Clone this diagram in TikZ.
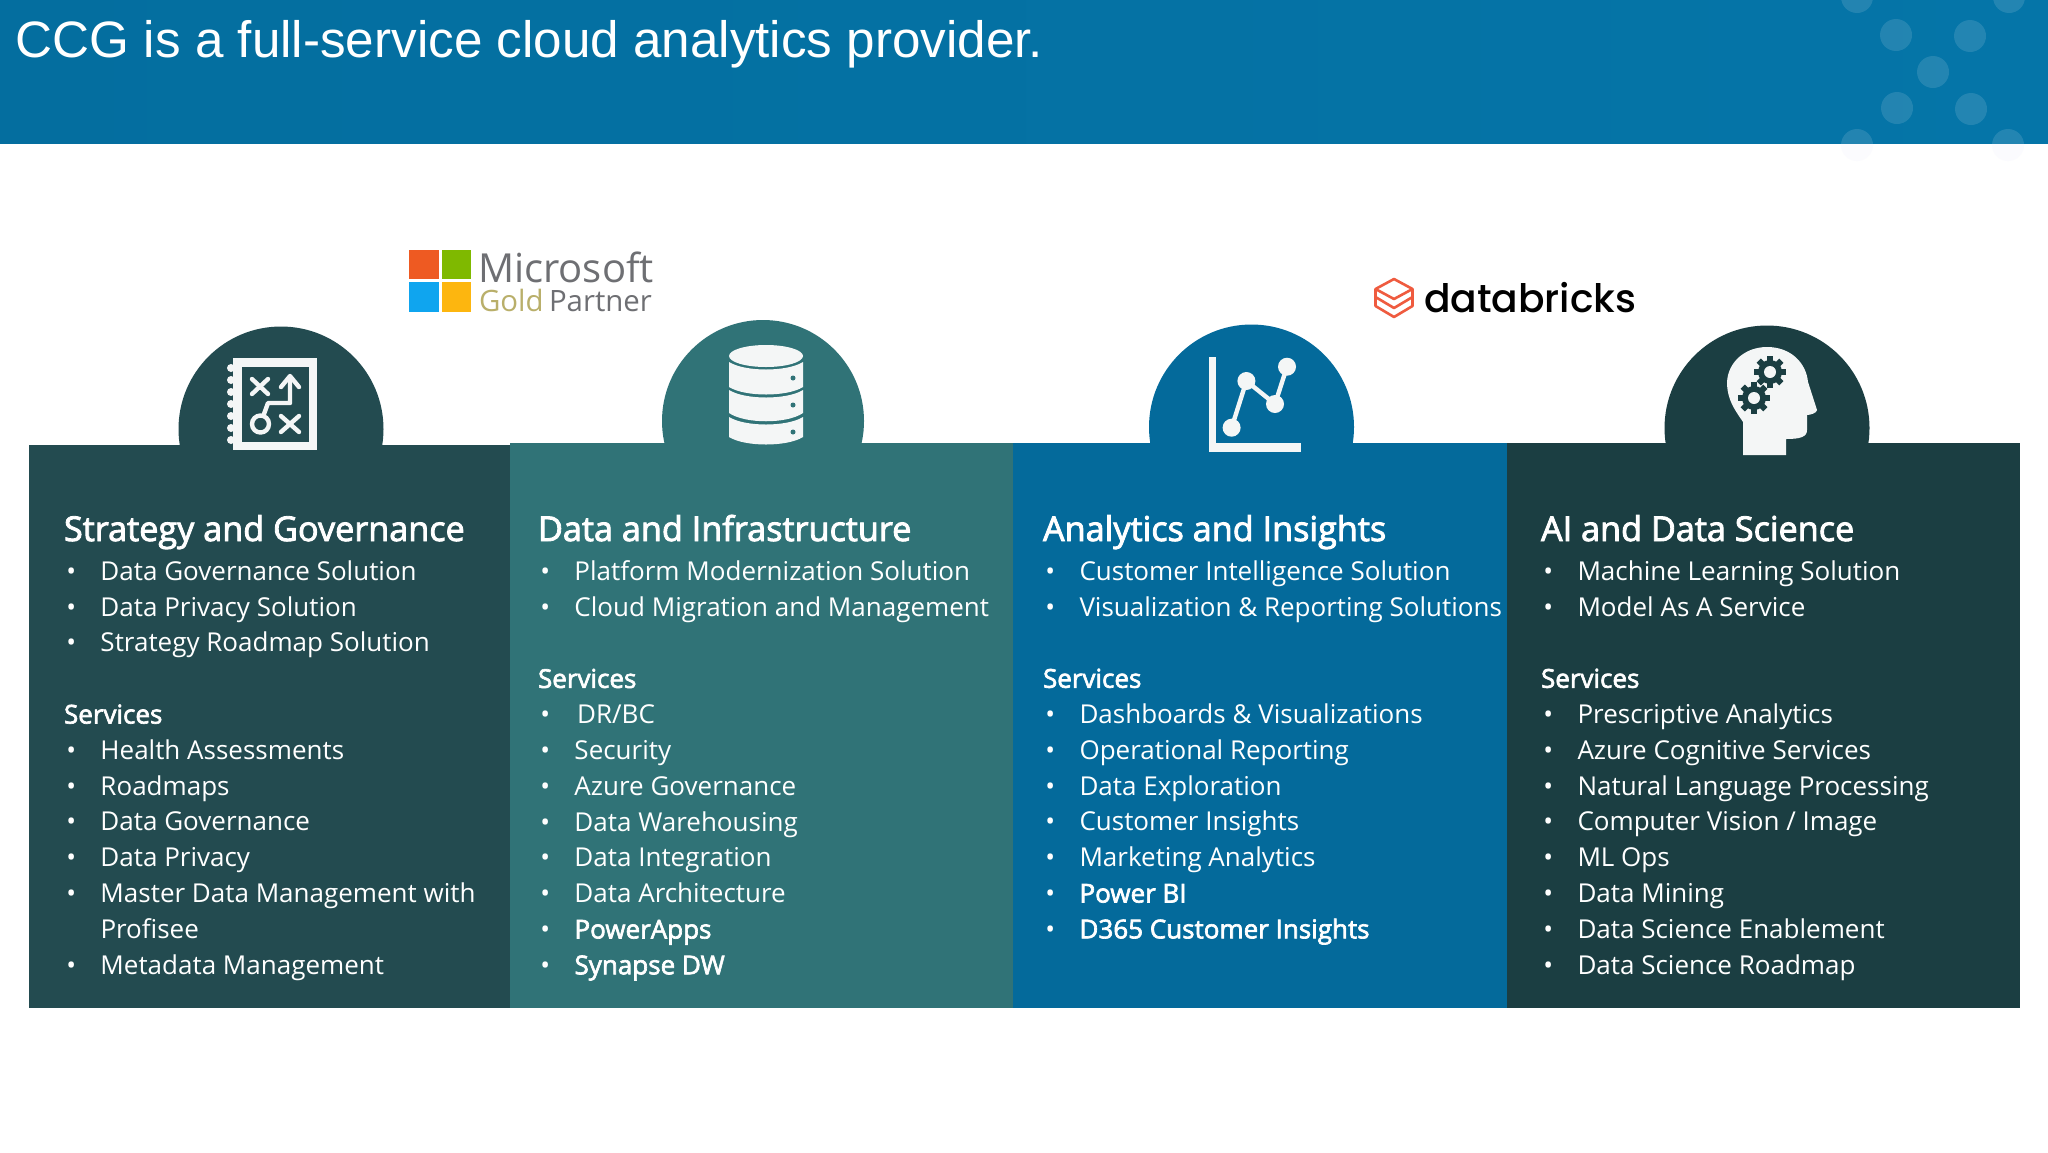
\documentclass[tikz,border=0pt]{standalone}
\usepackage{xcolor}
\usepackage{fontspec}
\usepackage{tikz}
\setmainfont{Open Sans}
\newfontfamily\titlefont{Liberation Sans}
\newfontfamily\brickfont{Poppins Medium}
\newfontfamily\semifont[FakeBold=2.5]{Open Sans}
\definecolor{bannerleft}{HTML}{046E9F}
\definecolor{bannerright}{HTML}{0575A8}
\definecolor{stratcol}{HTML}{234B50}
\definecolor{infracol}{HTML}{307377}
\definecolor{insightcol}{HTML}{046A9B}
\definecolor{aicol}{HTML}{1B3E42}
\definecolor{iconwhite}{HTML}{F4F6F6}
\definecolor{msgray}{HTML}{6E6F73}
\definecolor{msgold}{HTML}{B9AF6A}
\definecolor{msred}{HTML}{EE5A22}
\definecolor{msgreen}{HTML}{7FB900}
\definecolor{msblue}{HTML}{0FA5EF}
\definecolor{msyellow}{HTML}{FDB60F}
\definecolor{brickred}{HTML}{EF5B3F}
\definecolor{dottint}{HTML}{FBFBFE}
\newcommand{\itm}[1]{\makebox[18.25pt][l]{\hspace{1.2pt}•}#1}
\newcommand{\gearicon}[2]{%
  \fill[aicol] (#1,#2) circle (12);
  \foreach \a in {0,45,...,315} {\draw[aicol, line width=3pt] ([shift={(\a:9)}]#1,#2) -- ([shift={(\a:16)}]#1,#2);}
  \fill[iconwhite] (#1,#2) circle (6);
}
\begin{document}
\begin{tikzpicture}[x=0.5pt, y=-0.5pt,
    every node/.style={inner sep=0pt, outer sep=0pt},
    headtext/.style={anchor=base west, text=white, font=\semifont\fontsize{17.1}{20}\selectfont},
    listtext/.style={anchor=north west, text=white, align=left, font=\fontsize{13}{17.9}\selectfont},
    iconline/.style={draw=iconwhite, line width=2.2pt, line cap=round, line join=round},
    brickline/.style={draw=brickred, line width=1.3pt, line join=round},
    bandshape/.style={fill=iconwhite}]
    \useasboundingbox (0,0) rectangle (2048,1152);

    % Banner
    \fill[white] (0,0) rectangle (2048,1152);
    \foreach \x in {1857,2008} {\fill[dottint] (\x,145) circle (16);}
    \shade[left color=bannerleft, right color=bannerright] (0,0) rectangle (2048,143);
    \begin{scope}
        \clip (0,0) rectangle (2048,143);
        \foreach \x/\y in {1857/-3,2009/-3,1896/35,1970/36,1933/72,1897/108,1971/109,1857/145,2008/145} {\fill[white, opacity=0.12] (\x,\y) circle (16);}
    \end{scope}
    \node[anchor=base west, text=white, font=\titlefont\fontsize{25.6}{30}\selectfont] (title) at (16,57) {CCG is a full-service cloud analytics provider.};

    % Panels
    \fill[stratcol] (281,429) circle (102.5);
    \fill[infracol] (763,421) circle (101);
    \fill[insightcol] (1251.5,427) circle (102.5);
    \fill[aicol] (1767,428) circle (102.5);
    \fill[stratcol] (29,445) rectangle (510,1008);
    \fill[infracol] (510,443) rectangle (1013,1008);
    \fill[insightcol] (1013,443) rectangle (1507,1008);
    \fill[aicol] (1507,443) rectangle (2020,1008);

    % Microsoft logo
    \fill[msred] (409,250) rectangle (439,279);
    \fill[msgreen] (442,250) rectangle (471,279);
    \fill[msblue] (409,282) rectangle (439,312);
    \fill[msyellow] (442,282) rectangle (471,312);
    \node[anchor=base west, text=msgray, font=\fontsize{20}{24}\selectfont] (mslogo) at (478,282) {Microsoft};
    \node[anchor=base west, text=msgold, font=\fontsize{14.7}{18}\selectfont] (msgoldtext) at (479,311) {Gold};
    \node[anchor=base west, text=msgray, font=\fontsize{14.7}{18}\selectfont] (mspartner) at (549,311) {Partner};

    % Databricks logo
    \draw[brickline] (1394,279) -- (1412.5,289) -- (1394,299) -- (1375.5,289) -- cycle;
    \draw[brickline] (1375.5,289) -- (1375.5,306) -- (1394,317) -- (1412.5,306) -- (1412.5,289);
    \draw[brickline] (1375.5,297) -- (1394,308) -- (1412.5,297);
    \node[anchor=base west, text=black, font=\brickfont\fontsize{19.6}{25}\selectfont] (bricks) at (1424,312) {databricks};

    % Strategy icon
    \fill[iconwhite] (233,358) rectangle (317,450);
    \fill[stratcol] (242,367) rectangle (309,442);
    \foreach \y in {368,380,...,440} {\fill[iconwhite] (231,\y) circle (4);}
    \draw[iconline] (252,379) -- (268,394) (268,379) -- (252,394);
    \draw[iconline] (281,416) -- (299,432) (299,416) -- (281,432);
    \draw[iconline] (260.5,424) circle (8.5);
    \draw[iconline] (264,414) -- (268,403) -- (290,403) -- (290,378);
    \draw[iconline] (281,387) -- (290,376) -- (299,387);

    % Database icon
    \fill[bandshape] (729,362) .. controls (745,372) and (787,372) .. (803,362) -- (803,387) .. controls (787,397) and (745,397) .. (729,387) -- cycle;
    \fill[bandshape] (729,390) .. controls (745,400) and (787,400) .. (803,390) -- (803,413) .. controls (787,424) and (745,424) .. (729,413) -- cycle;
    \fill[bandshape] (729,417) .. controls (745,427) and (787,427) .. (803,417) -- (803,437) .. controls (787,447) and (745,447) .. (729,437) -- cycle;
    \foreach \y in {378,405,432} {\fill[infracol] (793,\y) circle (2.5);}
    \fill[iconwhite] (766,356) ellipse (37 and 11);

    % Chart icon
    \fill[iconwhite] (1208.7,357) rectangle (1216,452);
    \fill[iconwhite] (1208.7,443) rectangle (1300.5,452);
    \draw[iconline] (1231.6,427.7) -- (1246.4,381) -- (1275,404) -- (1287,366.7);
    \foreach \x/\y in {1231.6/427.7,1246.4/381,1275/404,1287/366.7} {\fill[iconwhite] (\x,\y) circle (9);}

    % Head icon
    \fill[iconwhite] (1743,455) -- (1743,422) .. controls (1735,410) and (1727,400) .. (1727,382)
        .. controls (1728,362) and (1745,347) .. (1767,347) .. controls (1790,347) and (1806,362) .. (1808,382)
        -- (1817,410) .. controls (1817,413) and (1810,415) .. (1807,415) -- (1807,430) .. controls (1807,437) and (1800,439) .. (1786,439) -- (1786,455) -- cycle;
    \gearicon{1770}{372}
    \gearicon{1754}{398}

    % Strategy and Governance
    \node[headtext] (head1) at (64,541) {Strategy and Governance};
    \node[listtext] (list1) at (64,560.6) {\itm{Data Governance Solution}\\\itm{Data Privacy Solution}\\\itm{Strategy Roadmap Solution}\\[17.9pt]
        {\semifont Services}\\\itm{Health Assessments}\\\itm{Roadmaps}\\\itm{Data Governance}\\\itm{Data Privacy}\\\itm{Master Data Management with}\\\hspace{18.25pt}Profisee\\\itm{Metadata Management}};

    % Data and Infrastructure
    \node[headtext] (head2) at (538,541) {Data and Infrastructure};
    \node[listtext] (list2) at (538,560.6) {\itm{Platform Modernization Solution}\\\itm{Cloud Migration and Management}\\[17.9pt]
        {\semifont Services}\\\itm{\hspace{1.3pt}DR/BC}\\\itm{Security}\\\itm{Azure Governance}\\\itm{Data Warehousing}\\\itm{Data Integration}\\\itm{Data Architecture}\\\itm{\semifont PowerApps}\\\itm{\semifont Synapse DW}};

    % Analytics and Insights
    \node[headtext] (head3) at (1043,541) {Analytics and Insights};
    \node[listtext] (list3) at (1043,560.6) {\itm{Customer Intelligence Solution}\\\itm{Visualization \& Reporting Solutions}\\[17.9pt]
        {\semifont Services}\\\itm{Dashboards \& Visualizations}\\\itm{Operational Reporting}\\\itm{Data Exploration}\\\itm{Customer Insights}\\\itm{Marketing Analytics}\\\itm{\semifont Power BI}\\\itm{\semifont D365 Customer Insights}};

    % AI and Data Science
    \node[headtext] (head4) at (1541,541) {AI and Data Science};
    \node[listtext] (list4) at (1541,560.6) {\itm{Machine Learning Solution}\\\itm{Model As A Service}\\[17.9pt]
        {\semifont Services}\\\itm{Prescriptive Analytics}\\\itm{Azure Cognitive Services}\\\itm{Natural Language Processing}\\\itm{Computer Vision / Image}\\\itm{ML Ops}\\\itm{Data Mining}\\\itm{Data Science Enablement}\\\itm{Data Science Roadmap}};
\end{tikzpicture}
\end{document}
